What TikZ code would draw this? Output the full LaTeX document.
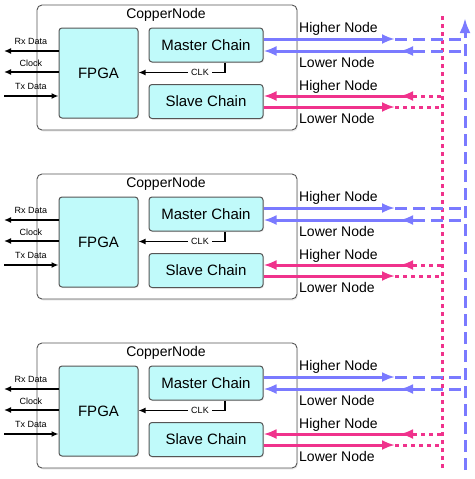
\documentclass[tikz,border=0pt]{standalone}
\usepackage{fontspec}
\setmainfont{Liberation Sans}
\usetikzlibrary{arrows.meta,shadows}

\definecolor{chipcyan}{RGB}{192,250,250}
\definecolor{masterblue}{RGB}{122,122,255}
\definecolor{slavepink}{RGB}{240,50,140}
\definecolor{boxgray}{RGB}{85,85,85}

\tikzset{
  copper/.style = {rectangle,
      draw = boxgray,
      rounded corners = 5pt,
      line width = 0.9pt,
      fill = white,
      minimum width = 260pt,
      minimum height = 125pt,
      drop shadow = {opacity = 0.15, shadow xshift = 1pt, shadow yshift = -1.5pt}},
  chip/.style = {rectangle,
      draw = boxgray,
      rounded corners = 3pt,
      line width = 1pt,
      fill = chipcyan,
      font = \fontsize{15}{18}\selectfont,
      drop shadow = {opacity = 0.15, shadow xshift = 1pt, shadow yshift = -1pt}},
  fpgabox/.style = {chip, minimum width = 79pt, minimum height = 90pt},
  chainbox/.style = {chip, minimum width = 114pt, minimum height = 34pt},
  title/.style = {font = \fontsize{14}{17}\selectfont},
  portlabel/.style = {font = \fontsize{9}{11}\selectfont},
  linklabel/.style = {anchor = west, inner sep = 0pt, font = \fontsize{14}{17}\selectfont},
  sig/.style = {line width = 1.5pt, -{Latex[length = 7pt, width = 6pt]}},
  bigtip/.style = {-{Latex[length = 13pt, width = 10pt]}},
  bluelink/.style = {draw = masterblue, line width = 3pt},
  pinklink/.style = {draw = slavepink, line width = 3pt},
  bluebus/.style = {draw = masterblue, line width = 3pt, dash pattern = on 12pt off 6pt},
  pinkbus/.style = {draw = slavepink, line width = 3pt, dash pattern = on 4pt off 4pt},
}

\begin{document}
\begin{tikzpicture}[x = 1pt, y = -1pt]
\useasboundingbox (0,0) rectangle (474,479);

% vertical buses on the right
\coordinate (pinktop) at (442,15);
\coordinate (pinkbot) at (442,468);
\draw[pinkbus] (pinkbot) -- (pinktop);
\coordinate (bluetop) at (465,18);
\coordinate (bluebot) at (465,470);
\draw[bluebus, -{Latex[length = 15pt, width = 11pt]}] (bluebot) -- (bluetop); % arrow up

% first node
\node[copper] (cn1) at (167,67.5) {};
\node[title] (cnt1) at (166,15) {CopperNode};
\node[fpgabox] (fpga1) at (98.5,73) {FPGA};
\node[chainbox] (master1) at (206,45) {Master Chain};
\node[chainbox] (slave1) at (206,101.5) {Slave Chain};

\coordinate (rx1) at (4,51);
\coordinate (clock1) at (4,72);
\coordinate (tx1) at (4,96);
\node[portlabel] (rxl1) at (31,41) {Rx Data};
\node[portlabel] (clockl1) at (31,63) {Clock};
\node[portlabel] (txl1) at (31,86) {Tx Data};
\draw[sig] (rx1 -| fpga1.west) -- (rx1);
\draw[sig] (clock1 -| fpga1.west) -- (clock1);
\draw[sig] (tx1) -- (tx1 -| fpga1.west);

\node[portlabel] (clk1) at (200,72.5) {CLK};
\draw[line width = 1.5pt] ([xshift = 19pt]master1.south) |- (clk1.east); % clock out of master chain
\draw[sig] (clk1.west) -- (clk1.west -| fpga1.east);

\coordinate (mup1) at (395,39);
\coordinate (mupend1) at (465,39);
\coordinate (mdn1) at (413,51);
\coordinate (mdnend1) at (465,51);
\draw[bluelink, bigtip] (mup1 -| master1.east) -- (mup1);
\draw[bluebus] (mup1) -- (mupend1);
\draw[bluelink, bigtip] (mdn1) -- (mdn1 -| master1.east);
\draw[bluelink, bigtip] (mdn1) -- ++(-13,0);
\draw[bluebus] (mdn1) -- (mdnend1);

\coordinate (sup1) at (413,96);
\coordinate (supend1) at (442,96);
\coordinate (sdn1) at (395,107);
\coordinate (sdnend1) at (442,107);
\draw[pinklink, bigtip] (sup1) -- (sup1 -| slave1.east);
\draw[pinklink, bigtip] (sup1) -- ++(-13,0);
\draw[pinkbus] (sup1) -- (supend1);
\draw[pinklink, bigtip] (sdn1 -| slave1.east) -- (sdn1);
\draw[pinkbus] (sdn1) -- (sdnend1);

\node[linklabel] (mhl1) at (299,29) {Higher Node};
\node[linklabel] (mll1) at (299,62) {Lower Node};
\node[linklabel] (shl1) at (299,87) {Higher Node};
\node[linklabel] (sll1) at (299,118) {Lower Node};

% second node
\begin{scope}[shift = {(0,169)}]
\node[copper] (cn2) at (167,67.5) {};
\node[title] (cnt2) at (166,15) {CopperNode};
\node[fpgabox] (fpga2) at (98.5,73) {FPGA};
\node[chainbox] (master2) at (206,45) {Master Chain};
\node[chainbox] (slave2) at (206,101.5) {Slave Chain};

\coordinate (rx2) at (4,51);
\coordinate (clock2) at (4,72);
\coordinate (tx2) at (4,96);
\node[portlabel] (rxl2) at (31,41) {Rx Data};
\node[portlabel] (clockl2) at (31,63) {Clock};
\node[portlabel] (txl2) at (31,86) {Tx Data};
\draw[sig] (rx2 -| fpga2.west) -- (rx2);
\draw[sig] (clock2 -| fpga2.west) -- (clock2);
\draw[sig] (tx2) -- (tx2 -| fpga2.west);

\node[portlabel] (clk2) at (200,72.5) {CLK};
\draw[line width = 1.5pt] ([xshift = 19pt]master2.south) |- (clk2.east); % clock out of master chain
\draw[sig] (clk2.west) -- (clk2.west -| fpga2.east);

\coordinate (mup2) at (395,39);
\coordinate (mupend2) at (465,39);
\coordinate (mdn2) at (413,51);
\coordinate (mdnend2) at (465,51);
\draw[bluelink, bigtip] (mup2 -| master2.east) -- (mup2);
\draw[bluebus] (mup2) -- (mupend2);
\draw[bluelink, bigtip] (mdn2) -- (mdn2 -| master2.east);
\draw[bluelink, bigtip] (mdn2) -- ++(-13,0);
\draw[bluebus] (mdn2) -- (mdnend2);

\coordinate (sup2) at (413,96);
\coordinate (supend2) at (442,96);
\coordinate (sdn2) at (395,107);
\coordinate (sdnend2) at (442,107);
\draw[pinklink, bigtip] (sup2) -- (sup2 -| slave2.east);
\draw[pinklink, bigtip] (sup2) -- ++(-13,0);
\draw[pinkbus] (sup2) -- (supend2);
\draw[pinklink, bigtip] (sdn2 -| slave2.east) -- (sdn2);
\draw[pinkbus] (sdn2) -- (sdnend2);

\node[linklabel] (mhl2) at (299,29) {Higher Node};
\node[linklabel] (mll2) at (299,62) {Lower Node};
\node[linklabel] (shl2) at (299,87) {Higher Node};
\node[linklabel] (sll2) at (299,118) {Lower Node};
\end{scope}

% third node
\begin{scope}[shift = {(0,338)}]
\node[copper] (cn3) at (167,67.5) {};
\node[title] (cnt3) at (166,15) {CopperNode};
\node[fpgabox] (fpga3) at (98.5,73) {FPGA};
\node[chainbox] (master3) at (206,45) {Master Chain};
\node[chainbox] (slave3) at (206,101.5) {Slave Chain};

\coordinate (rx3) at (4,51);
\coordinate (clock3) at (4,72);
\coordinate (tx3) at (4,96);
\node[portlabel] (rxl3) at (31,41) {Rx Data};
\node[portlabel] (clockl3) at (31,63) {Clock};
\node[portlabel] (txl3) at (31,86) {Tx Data};
\draw[sig] (rx3 -| fpga3.west) -- (rx3);
\draw[sig] (clock3 -| fpga3.west) -- (clock3);
\draw[sig] (tx3) -- (tx3 -| fpga3.west);

\node[portlabel] (clk3) at (200,72.5) {CLK};
\draw[line width = 1.5pt] ([xshift = 19pt]master3.south) |- (clk3.east); % clock out of master chain
\draw[sig] (clk3.west) -- (clk3.west -| fpga3.east);

\coordinate (mup3) at (395,39);
\coordinate (mupend3) at (465,39);
\coordinate (mdn3) at (413,51);
\coordinate (mdnend3) at (465,51);
\draw[bluelink, bigtip] (mup3 -| master3.east) -- (mup3);
\draw[bluebus] (mup3) -- (mupend3);
\draw[bluelink, bigtip] (mdn3) -- (mdn3 -| master3.east);
\draw[bluelink, bigtip] (mdn3) -- ++(-13,0);
\draw[bluebus] (mdn3) -- (mdnend3);

\coordinate (sup3) at (413,96);
\coordinate (supend3) at (442,96);
\coordinate (sdn3) at (395,107);
\coordinate (sdnend3) at (442,107);
\draw[pinklink, bigtip] (sup3) -- (sup3 -| slave3.east);
\draw[pinklink, bigtip] (sup3) -- ++(-13,0);
\draw[pinkbus] (sup3) -- (supend3);
\draw[pinklink, bigtip] (sdn3 -| slave3.east) -- (sdn3);
\draw[pinkbus] (sdn3) -- (sdnend3);

\node[linklabel] (mhl3) at (299,29) {Higher Node};
\node[linklabel] (mll3) at (299,62) {Lower Node};
\node[linklabel] (shl3) at (299,87) {Higher Node};
\node[linklabel] (sll3) at (299,118) {Lower Node};
\end{scope}
\end{tikzpicture}
\end{document}
